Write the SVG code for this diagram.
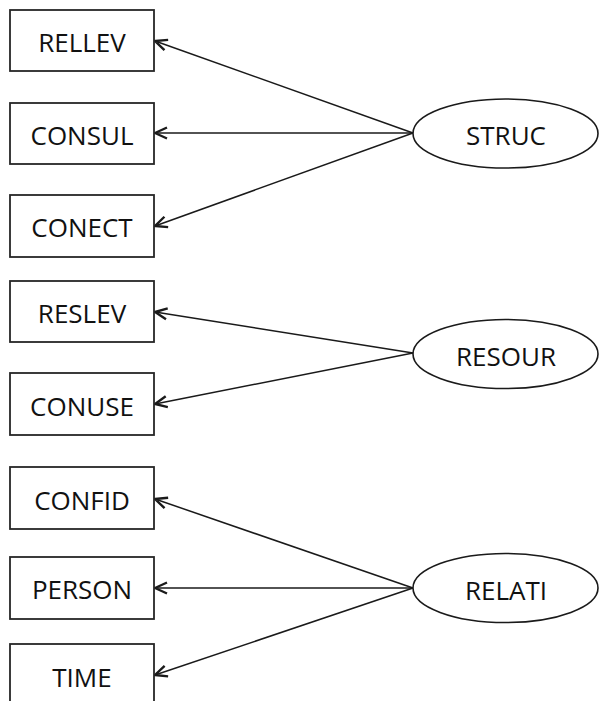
<svg xmlns="http://www.w3.org/2000/svg" width="599" height="701" viewBox="0 0 599 701">
<style>
.box{fill:#fff;stroke:#262626;stroke-width:1.8}
.ell{fill:#fff;stroke:#1a1a1a;stroke-width:1.6}
.lbl{font-family:"Open Sans","Liberation Sans",sans-serif;font-size:26px;fill:#111;text-anchor:middle;dominant-baseline:central}
.con{stroke:#1a1a1a;stroke-width:1.5;fill:none;marker-end:url(#arr)}
</style>
<defs>
<marker id="arr" viewBox="0 0 14 14" refX="13" refY="7" markerWidth="14" markerHeight="14" markerUnits="userSpaceOnUse" orient="auto">
<polyline points="1,1.5 13,7 1,12.5" fill="none" stroke="#1a1a1a" stroke-width="2.4" stroke-linejoin="miter"/>
</marker>
</defs>
<g id="connectors">
<line class="con" x1="413" y1="133" x2="155" y2="41"/>
<line class="con" x1="413" y1="133" x2="155" y2="133"/>
<line class="con" x1="413" y1="133" x2="155" y2="226"/>
<line class="con" x1="413" y1="353" x2="155" y2="312"/>
<line class="con" x1="413" y1="353" x2="155" y2="404"/>
<line class="con" x1="413" y1="588" x2="155" y2="499"/>
<line class="con" x1="413" y1="588" x2="155" y2="588"/>
<line class="con" x1="413" y1="588" x2="155" y2="675"/>
</g>
<g id="RELLEV"><rect class="box" x="10" y="10" width="144" height="61"/><text class="lbl" x="82" y="42">RELLEV</text></g>
<g id="CONSUL"><rect class="box" x="10" y="103" width="144" height="61"/><text class="lbl" x="82" y="135">CONSUL</text></g>
<g id="CONECT"><rect class="box" x="10" y="195" width="144" height="62"/><text class="lbl" x="82" y="227">CONECT</text></g>
<g id="RESLEV"><rect class="box" x="10" y="281" width="144" height="61"/><text class="lbl" x="82" y="313">RESLEV</text></g>
<g id="CONUSE"><rect class="box" x="10" y="373" width="144" height="62"/><text class="lbl" x="82" y="406">CONUSE</text></g>
<g id="CONFID"><rect class="box" x="10" y="467" width="144" height="62"/><text class="lbl" x="82" y="500">CONFID</text></g>
<g id="PERSON"><rect class="box" x="10" y="557" width="144" height="62"/><text class="lbl" x="82" y="589">PERSON</text></g>
<g id="TIME"><rect class="box" x="10" y="644" width="144" height="70"/><text class="lbl" x="82" y="677">TIME</text></g>
<g id="STRUC"><ellipse class="ell" cx="505.5" cy="133.5" rx="92.5" ry="34.5"/><text class="lbl" x="506" y="135">STRUC</text></g>
<g id="RESOUR"><ellipse class="ell" cx="505.5" cy="354" rx="92.5" ry="34.5"/><text class="lbl" x="506" y="356">RESOUR</text></g>
<g id="RELATI"><ellipse class="ell" cx="505.5" cy="588" rx="92.5" ry="34.5"/><text class="lbl" x="506" y="590">RELATI</text></g>
</svg>
